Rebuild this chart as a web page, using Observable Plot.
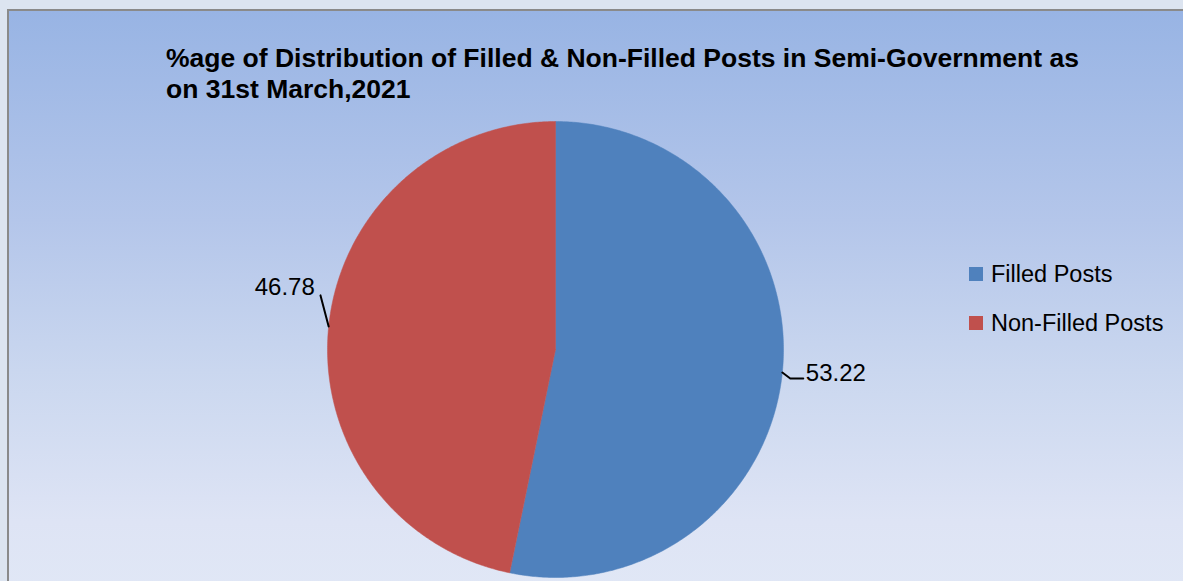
<!DOCTYPE html>
<html>
<head>
<meta charset="utf-8">
<script src="https://cdn.jsdelivr.net/npm/d3@7"></script>
<script src="https://cdn.jsdelivr.net/npm/@observablehq/plot@0.6"></script>
<style>
  html, body { margin: 0; padding: 0; }
  body { width: 1183px; height: 581px; overflow: hidden; background: #dce4f0; position: relative; font-family: "Liberation Sans", Arial, sans-serif; }
  #panel { position: absolute; left: 7px; top: 9px; width: 1190px; height: 600px; border-left: 2px solid #8a8a8a; border-top: 2px solid #8a8a8a;
    background: linear-gradient(to bottom, #98b4e4 0%, #b4c6ea 35%, #cad7ef 60%, #dee4f5 85%, #e1e8f6 100%); }
  #title { position: absolute; left: 166px; top: 43px; font-weight: bold; font-size: 26.5px; line-height: 31px; color: #000; white-space: nowrap; }
  #chart { position: absolute; left: 0; top: 0; }
  #legend { position: absolute; left: 969px; top: 249px; font-size: 23.5px; color: #000; }
  .item { display: flex; align-items: center; height: 49px; line-height: 30px; }
  .sw { width: 14px; height: 14px; margin-right: 8px; }
</style>
</head>
<body>
<div id="panel"></div>
<div id="chart"></div>
<div id="title">%age of Distribution of Filled &amp; Non-Filled Posts in Semi-Government as<br>on 31st March,2021</div>
<div id="legend"></div>
<script>
const categories = ["Filled Posts", "Non-Filled Posts"];
const values = [53.22, 46.78];
const labels = ["53.22", "46.78"];
const colors = ["#4f81bd", "#c0504d"];

const data = categories.map((c, i) => ({name: c, value: values[i], label: labels[i], color: colors[i]}));
const arcs = d3.pie().sort(null).value(d => d.value)(data);

// polygon points for each slice (unit radius, angle 0 at top, clockwise)
const polys = arcs.map(a => {
  const pts = [{x: 0, y: 0}];
  const n = Math.max(2, Math.ceil((a.endAngle - a.startAngle) / (Math.PI / 360)));
  for (let k = 0; k <= n; k++) {
    const t = a.startAngle + (a.endAngle - a.startAngle) * k / n;
    pts.push({x: Math.sin(t), y: Math.cos(t)});
  }
  pts.push({x: 0, y: 0});
  return {d: a.data, pts};
});

// leader lines and labels
const leaders = [];
const texts = [];
arcs.forEach((a, i) => {
  const m = (a.startAngle + a.endAngle) / 2;
  const sx = Math.sin(m), sy = Math.cos(m);
  const right = sx > 0;
  if (right) {
    leaders.push({id: i, x: sx, y: sy});
    leaders.push({id: i, x: sx * 1.035, y: sy * 1.26});
    leaders.push({id: i, x: sx * 1.035 + 0.057, y: sy * 1.26});
    texts.push({x: sx * 1.035 + 0.068, y: sy * 1.26 + 0.022, text: a.data.label, anchor: "start"});
  } else {
    leaders.push({id: i, x: sx, y: sy});
    leaders.push({id: i, x: sx * 1.036, y: sy * 2.35});
    texts.push({x: sx * 1.036 - 0.025, y: sy * 2.35 + 0.035, text: a.data.label, anchor: "end"});
  }
});

const cx = 555, cy = 349, R = 228;
const marks = polys.map(p => Plot.line(p.pts, {x: "x", y: "y", fill: p.d.color, stroke: p.d.color, strokeWidth: 0.5, curve: "linear"}));
marks.push(Plot.line(leaders, {x: "x", y: "y", z: "id", stroke: "#000", strokeWidth: 2}));
marks.push(Plot.text(texts.filter(t => t.anchor === "start"), {x: "x", y: "y", text: "text", textAnchor: "start", fontSize: 24, fill: "#000"}));
marks.push(Plot.text(texts.filter(t => t.anchor === "end"), {x: "x", y: "y", text: "text", textAnchor: "end", fontSize: 24, fill: "#000"}));

const chart = Plot.plot({
  width: 1183,
  height: 581,
  margin: 0,
  style: {background: "transparent", fontFamily: "'Liberation Sans', Arial, sans-serif"},
  x: {domain: [-1, 1], range: [cx - R, cx + R], axis: null},
  y: {domain: [-1, 1], range: [cy + R, cy - R], axis: null},
  marks
});
document.getElementById("chart").appendChild(chart);

const legend = document.getElementById("legend");
data.forEach(d => {
  const it = document.createElement("div");
  it.className = "item";
  const sw = document.createElement("div");
  sw.className = "sw";
  sw.style.background = d.color;
  const tx = document.createElement("span");
  tx.textContent = d.name;
  it.appendChild(sw);
  it.appendChild(tx);
  legend.appendChild(it);
});
</script>
</body>
</html>
